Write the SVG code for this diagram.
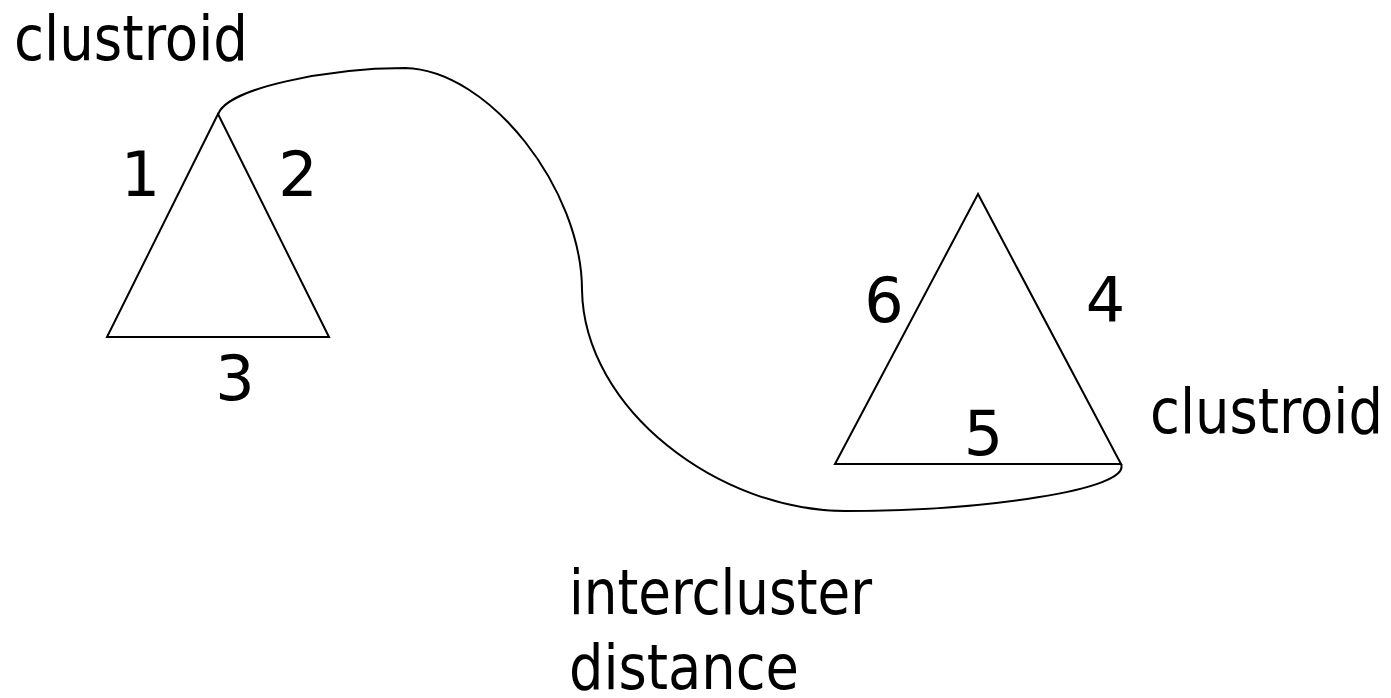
<svg xmlns="http://www.w3.org/2000/svg" width="1391" height="698" viewBox="0 0 1391 698">
<style>
text{font-family:"DejaVu Sans Condensed","DejaVu Sans",sans-serif;font-stretch:condensed;font-size:62px;fill:#000}
text.num{font-family:"DejaVu Sans",sans-serif;font-stretch:normal;text-anchor:middle}
.shape{fill:none;stroke:#000;stroke-width:2}
</style>
<rect width="1391" height="698" fill="#fff"/>
<g id="connectors">
<path class="shape" d="M218,115 C225,88 330,68 405,68 C490,70 582,190 582,290 C584,410 720,511 845,511 C980,511 1132,490 1121,464"/>
</g>
<g id="cluster1">
<polygon class="shape" points="218,114 107,337 329,337"/>
<text x="14" y="60" textLength="234" lengthAdjust="spacingAndGlyphs">clustroid</text>
<text class="num" x="140.5" y="196">1</text>
<text class="num" x="298" y="196">2</text>
<text class="num" x="235" y="400">3</text>
</g>
<g id="cluster2">
<polygon class="shape" points="978,194 835,464 1121,464"/>
<text class="num" x="884" y="322">6</text>
<text class="num" x="1105.5" y="322">4</text>
<text class="num" x="983.5" y="455">5</text>
<text x="1150" y="433" textLength="233" lengthAdjust="spacingAndGlyphs">clustroid</text>
</g>
<g id="label">
<text x="569" y="614" textLength="303" lengthAdjust="spacingAndGlyphs">intercluster</text>
<text x="569" y="689" textLength="230" lengthAdjust="spacingAndGlyphs">distance</text>
</g>
</svg>
